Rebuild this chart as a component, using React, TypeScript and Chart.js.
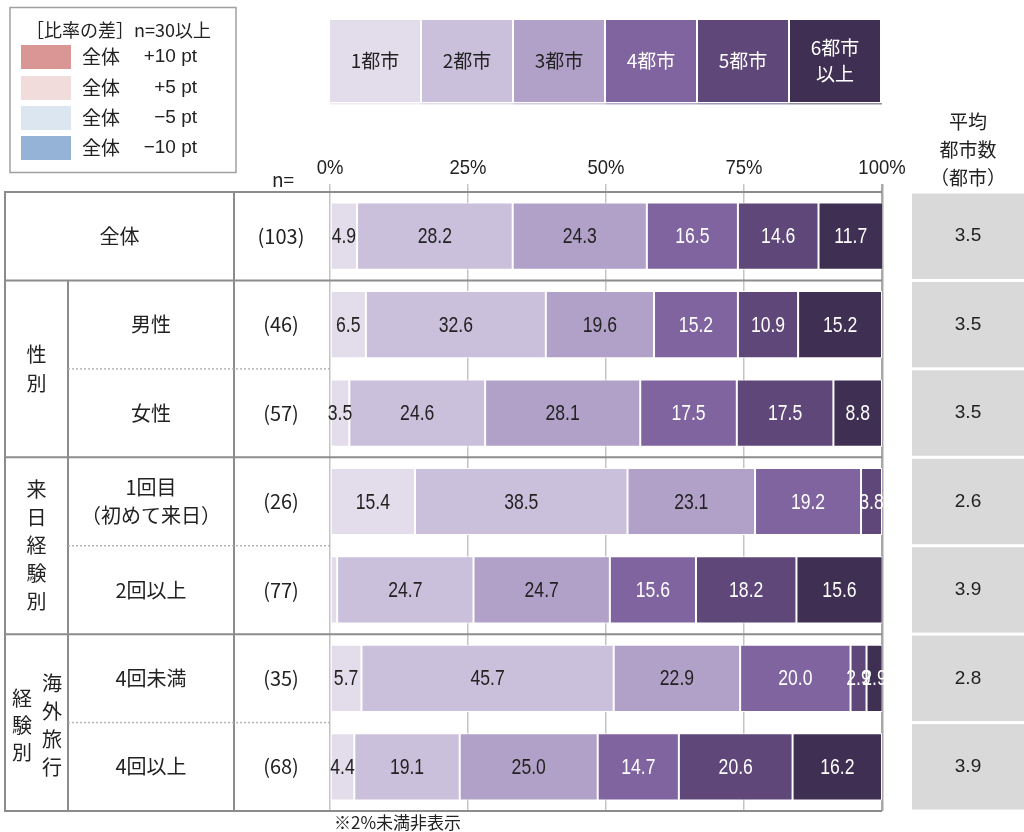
import React, { useEffect, useRef } from "react";
import { Chart, registerables } from "chart.js";

Chart.register(...registerables);

// ---------- data ----------
const categories = ["全体", "男性", "女性", "1回目（初めて来日）", "2回以上", "4回未満", "4回以上"];
const rowLabelLines = [["全体"], ["男性"], ["女性"], ["1回目", "（初めて来日）"], ["2回以上"], ["4回未満"], ["4回以上"]];
const sampleSizes = ["(103)", "(46)", "(57)", "(26)", "(77)", "(35)", "(68)"];
const seriesNames = ["1都市", "2都市", "3都市", "4都市", "5都市", "6都市以上"];
const legendLabelLines = [["1都市"], ["2都市"], ["3都市"], ["4都市"], ["5都市"], ["6都市", "以上"]];
const city1 = [4.9, 6.5, 3.5, 15.4, 1.3, 5.7, 4.4];
const city2 = [28.2, 32.6, 24.6, 38.5, 24.7, 45.7, 19.1];
const city3 = [24.3, 19.6, 28.1, 23.1, 24.7, 22.9, 25.0];
const city4 = [16.5, 15.2, 17.5, 19.2, 15.6, 20.0, 14.7];
const city5 = [14.6, 10.9, 17.5, 3.8, 18.2, 2.9, 20.6];
const city6 = [11.7, 15.2, 8.8, 0, 15.6, 2.9, 16.2];
const averages = ["3.5", "3.5", "3.5", "2.6", "3.9", "2.8", "3.9"];
const averageHeader = ["平均", "都市数", "（都市）"];
const xTickValues = [0, 25, 50, 75, 100];
const groupGender = ["性", "別"];
const groupVisit = ["来", "日", "経", "験", "別"];
const groupTravelA = ["海", "外", "旅", "行"];
const groupTravelB = ["経", "験", "別"];
const diffLegendTitle = "［比率の差］n=30以上";
const diffLegendLabels = ["+10 pt", "+5 pt", "−5 pt", "−10 pt"];
const footnote = "※2%未満非表示";

const seriesData = [city1, city2, city3, city4, city5, city6];
const seriesColors = ["#e3ddeb", "#cbc0dc", "#b1a1c8", "#80649f", "#5f4879", "#3f2f52"];
const seriesTextColors = ["#222", "#222", "#222", "#fff", "#fff", "#fff"];
const diffColors = ["#d99694", "#f2dcdb", "#dce6f1", "#95b3d7"];

const JP = "'Noto Sans CJK JP', sans-serif";
const ARIAL = "'Liberation Sans', Arial, sans-serif";

function narrowText(ctx: any, text: string, x: number, y: number, sx: number) {
  ctx.save();
  ctx.translate(x, y);
  ctx.scale(sx, 1);
  ctx.fillText(text, 0, 0);
  ctx.restore();
}

const overlayPlugin = {
  id: "overlay",
  afterDatasetsDraw(chart: any) {
    const ctx = chart.ctx;
    ctx.save();
    ctx.textAlign = "center";
    ctx.textBaseline = "middle";
    ctx.font = `22px ${ARIAL}`;
    chart.data.datasets.forEach((ds: any, di: number) => {
      const meta = chart.getDatasetMeta(di);
      meta.data.forEach((el: any, i: number) => {
        const v = ds.data[i];
        if (v < 2) return;
        ctx.fillStyle = seriesTextColors[di];
        narrowText(ctx, v.toFixed(1), (el.x + el.base) / 2, el.y + 1, 0.8);
      });
    });
    ctx.restore();
  },
  afterDraw(chart: any) {
    const ctx = chart.ctx;
    const area = chart.chartArea;
    const xs = chart.scales.x;
    const ys = chart.scales.y;
    const step = ys.getPixelForValue(1) - ys.getPixelForValue(0);
    const center = (i: number) => ys.getPixelForValue(i);
    const top = (i: number) => center(i) - step / 2;
    const bottom = (i: number) => center(i) + step / 2;
    const L = 5, C1 = 68, C2 = 234;

    ctx.save();
    // ----- x tick labels -----
    ctx.fillStyle = "#222";
    ctx.textAlign = "center";
    ctx.textBaseline = "middle";
    ctx.font = `21px ${ARIAL}`;
    xTickValues.forEach((v) => narrowText(ctx, v + "%", xs.getPixelForValue(v), 168, 0.88));

    // ----- table lines -----
    ctx.strokeStyle = "#8c8c8c";
    ctx.lineWidth = 2;
    const hline = (x1: number, x2: number, y: number) => {
      ctx.beginPath();
      ctx.moveTo(x1, y);
      ctx.lineTo(x2, y);
      ctx.stroke();
    };
    const vline = (x: number, y1: number, y2: number) => {
      ctx.beginPath();
      ctx.moveTo(x, y1);
      ctx.lineTo(x, y2);
      ctx.stroke();
    };
    hline(L - 1, area.right, top(0));
    hline(L - 1, area.right, bottom(0));
    hline(L - 1, area.right, bottom(2));
    hline(L - 1, area.right, bottom(4));
    hline(L - 1, area.right, bottom(6));
    vline(L, top(0), bottom(6));
    vline(C1, bottom(0), bottom(6));
    vline(C2, top(0), bottom(6));
    ctx.strokeStyle = "#b5b5b5";
    ctx.lineWidth = 1.5;
    ctx.setLineDash([2, 2]);
    hline(C1, area.left, bottom(1));
    hline(C1, area.left, bottom(3));
    hline(C1, area.left, bottom(5));
    ctx.setLineDash([]);

    // ----- table text -----
    ctx.fillStyle = "#222";
    ctx.textAlign = "center";
    ctx.textBaseline = "middle";
    ctx.font = `20px ${JP}`;
    rowLabelLines.forEach((lines, i) => {
      const cx = i === 0 ? (L + C2) / 2 : (C1 + C2) / 2;
      const lh = 28;
      lines.forEach((t, k) => {
        ctx.fillText(t, cx, center(i) + (k - (lines.length - 1) / 2) * lh);
      });
    });
    sampleSizes.forEach((t, i) => ctx.fillText(t, (C2 + area.left) / 2 - 1, center(i)));
    const vertical = (chars: string[], x: number, cy: number, lh: number) => {
      chars.forEach((c, k) => ctx.fillText(c, x, cy + (k - (chars.length - 1) / 2) * lh));
    };
    vertical(groupGender, (L + C1) / 2, (top(1) + bottom(2)) / 2, 29);
    vertical(groupVisit, (L + C1) / 2, (top(3) + bottom(4)) / 2, 28);
    vertical(groupTravelA, 52, (top(5) + bottom(6)) / 2 + 3, 28);
    vertical(groupTravelB, 22, (top(5) + bottom(6)) / 2 + 3, 27);
    ctx.font = `19px ${JP}`;
    ctx.fillText("n=", 283, 180);

    // ----- average column -----
    ctx.font = `19px ${JP}`;
    averageHeader.forEach((t, k) => ctx.fillText(t, 968, 122 + k * 28));
    averages.forEach((t, i) => {
      ctx.fillStyle = "#d9d9d9";
      ctx.fillRect(912, top(i) + 1.5, 112, step - 3);
      ctx.fillStyle = "#222";
      ctx.font = `19px ${ARIAL}`;
      ctx.fillText(t, 968, center(i));
    });

    // ----- series legend (top) -----
    const lw = (area.right - area.left) / seriesNames.length;
    seriesNames.forEach((_, i) => {
      const x0 = area.left + i * lw;
      ctx.fillStyle = seriesColors[i];
      ctx.fillRect(x0, 20, lw - 2, 82);
      ctx.globalAlpha = 0.55;
      ctx.fillRect(x0, 103, lw, 1.5);
      ctx.globalAlpha = 1;
      ctx.fillStyle = seriesTextColors[i];
      ctx.font = `19px ${JP}`;
      const lines = legendLabelLines[i];
      lines.forEach((t, k) => ctx.fillText(t, x0 + lw / 2 - 1, 61 + (k - (lines.length - 1) / 2) * 26));
    });

    // ----- diff legend (top left) -----
    ctx.strokeStyle = "#a0a0a0";
    ctx.lineWidth = 1.5;
    ctx.strokeRect(10, 7.5, 226, 165);
    ctx.fillStyle = "#222";
    ctx.textAlign = "left";
    ctx.font = `18px ${JP}`;
    ctx.fillText(diffLegendTitle, 26, 30);
    const ry = [57, 88, 118, 148];
    diffColors.forEach((c, k) => {
      ctx.fillStyle = c;
      ctx.fillRect(21, ry[k] - 12, 50, 24);
      ctx.fillStyle = "#222";
      ctx.textAlign = "left";
      ctx.font = `19px ${JP}`;
      ctx.fillText("全体", 82, ry[k]);
      ctx.textAlign = "right";
      ctx.font = `19px ${ARIAL}`;
      ctx.fillText(diffLegendLabels[k], 197, ry[k]);
    });

    // ----- footnote -----
    ctx.textAlign = "left";
    ctx.fillStyle = "#222";
    ctx.font = `17px ${JP}`;
    ctx.fillText(footnote, 334, 823);
    ctx.restore();
  },
};

export default function App() {
  const ref = useRef<HTMLCanvasElement | null>(null);
  useEffect(() => {
    if (!ref.current) return;
    const chart = new Chart(ref.current, {
      type: "bar",
      data: {
        labels: categories,
        datasets: seriesNames.map((name, i) => ({
          label: name,
          data: seriesData[i],
          backgroundColor: seriesColors[i],
          borderColor: "#ffffff",
          borderWidth: 1,
          borderSkipped: false,
          barPercentage: 0.76,
          categoryPercentage: 1,
        })),
      },
      options: {
        indexAxis: "y",
        responsive: false,
        animation: false,
        events: [],
        layout: { padding: { left: 330, right: 142, top: 162, bottom: 21 } },
        plugins: { legend: { display: false }, tooltip: { enabled: false } },
        scales: {
          x: {
            position: "top",
            stacked: true,
            min: 0,
            max: 100,
            afterBuildTicks: (s: any) => {
              s.ticks = xTickValues.map((v) => ({ value: v }));
            },
            afterFit: (s: any) => {
              s.height = 30;
            },
            ticks: { display: false },
            grid: {
              color: (c: any) => (c.index === 4 ? "#a8a8a8" : "#c4c4c4"),
              lineWidth: (c: any) => (c.index === 4 ? 2.5 : 1.5),
              tickLength: 8,
            },
            border: { display: false },
          },
          y: { stacked: true, display: false },
        },
      } as any,
      plugins: [overlayPlugin],
    });
    return () => chart.destroy();
  }, []);
  return (
    <div style={{ position: "absolute", left: 0, top: 0, width: 1024, height: 832, background: "#fff" }}>
      <canvas ref={ref} width={1024} height={832} style={{ display: "block" }} />
    </div>
  );
}
